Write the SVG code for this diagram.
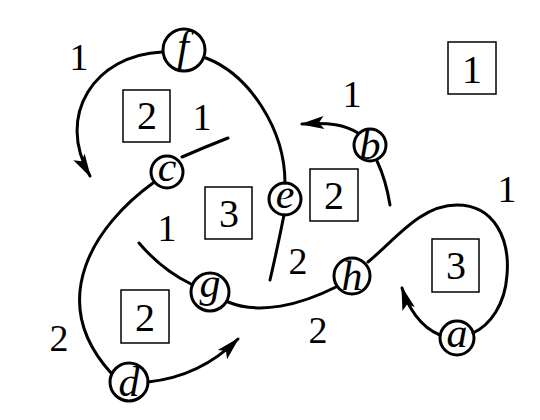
<svg xmlns="http://www.w3.org/2000/svg" width="540" height="420" viewBox="0 0 540 420">
<style>
.n{fill:none;stroke:#000;stroke-width:3}
.t{font-family:"Liberation Serif","Times New Roman",serif;font-size:42px;font-style:italic;text-anchor:middle;fill:#000}
.lab{font-family:"Liberation Serif","Times New Roman",serif;font-size:38px;text-anchor:middle;fill:#000}
.bx{fill:none;stroke:#000;stroke-width:1.5}
.bt{font-family:"Liberation Serif","Times New Roman",serif;font-size:40px;text-anchor:middle;fill:#000}
.e{fill:none;stroke:#000;stroke-width:3;stroke-linecap:round}
</style>
<defs>
<marker id="ah" markerUnits="userSpaceOnUse" markerWidth="30" markerHeight="20" viewBox="-24 -10 30 20" refX="0" refY="0" orient="auto">
<path d="M2,0 L-22,-6.5 L-17,0 L-22,6.5 Z" fill="#000"/>
</marker>
</defs>
<rect width="540" height="420" fill="#fff"/>
<g id="connectors">
<path class="e" d="M 162 52 C 95 55 55 115 90 176" marker-end="url(#ah)"/>
<path class="e" d="M 206 58 C 250 75 285 130 285 183"/>
<path class="e" d="M 284 215 Q 277 250 270 280"/>
<path class="e" d="M 228 138 Q 205 147 182 157"/>
<path class="e" d="M 153 183 C 95 225 45 300 111 373"/>
<path class="e" d="M 148 382 C 185 378 215 362 238 339" marker-end="url(#ah)"/>
<path class="e" d="M 139 243 Q 162 270 191 284"/>
<path class="e" d="M 228 302 C 260 315 300 305 336 287"/>
<path class="e" d="M 368 262 C 395 240 420 205 457 205 C 495 205 510 240 507 275 C 505 305 490 325 473 333"/>
<path class="e" d="M 440 335 C 420 327 408 307 402 288" marker-end="url(#ah)"/>
<path class="e" d="M 390 205 Q 386 180 377 161"/>
<path class="e" d="M 358 133 C 345 125 330 122 302 124" marker-end="url(#ah)"/>
</g>
<g id="edge-labels">
<text class="lab" x="79" y="70">1</text>
<text class="lab" x="202" y="130">1</text>
<text class="lab" x="352" y="107">1</text>
<text class="lab" x="507" y="202">1</text>
<text class="lab" x="167" y="241">1</text>
<text class="lab" x="59" y="351">2</text>
<text class="lab" x="298" y="274">2</text>
<text class="lab" x="318" y="343">2</text>
</g>
<g id="node-f"><circle class="n" cx="184" cy="50" r="21"/><text class="t" x="183" y="60">f</text></g>
<g id="node-c"><circle class="n" cx="167" cy="172" r="16"/><text class="t" x="167" y="181">c</text></g>
<g id="node-e"><circle class="n" cx="285" cy="199" r="16"/><text class="t" x="285" y="208">e</text></g>
<g id="node-b"><circle class="n" cx="370" cy="145" r="16"/><text class="t" x="370" y="159">b</text></g>
<g id="node-g"><circle class="n" cx="210" cy="292" r="19"/><text class="t" x="210" y="297">g</text></g>
<g id="node-d"><circle class="n" cx="129" cy="382" r="19"/><text class="t" x="129" y="396">d</text></g>
<g id="node-h"><circle class="n" cx="352" cy="276" r="18"/><text class="t" x="352" y="290">h</text></g>
<g id="node-a"><circle class="n" cx="457" cy="338" r="17"/><text class="t" x="457" y="347">a</text></g>
<g id="region-1"><rect class="bx" x="448" y="42" width="48" height="52"/><text class="bt" x="472" y="83">1</text></g>
<g id="region-2a"><rect class="bx" x="123" y="90" width="47" height="52"/><text class="bt" x="147" y="129">2</text></g>
<g id="region-3a"><rect class="bx" x="205" y="187" width="47" height="52"/><text class="bt" x="229" y="227">3</text></g>
<g id="region-2b"><rect class="bx" x="310" y="169" width="48" height="52"/><text class="bt" x="334" y="209">2</text></g>
<g id="region-2c"><rect class="bx" x="121" y="290" width="48" height="53"/><text class="bt" x="145" y="331">2</text></g>
<g id="region-3b"><rect class="bx" x="432" y="239" width="47" height="53"/><text class="bt" x="456" y="279">3</text></g>
</svg>
